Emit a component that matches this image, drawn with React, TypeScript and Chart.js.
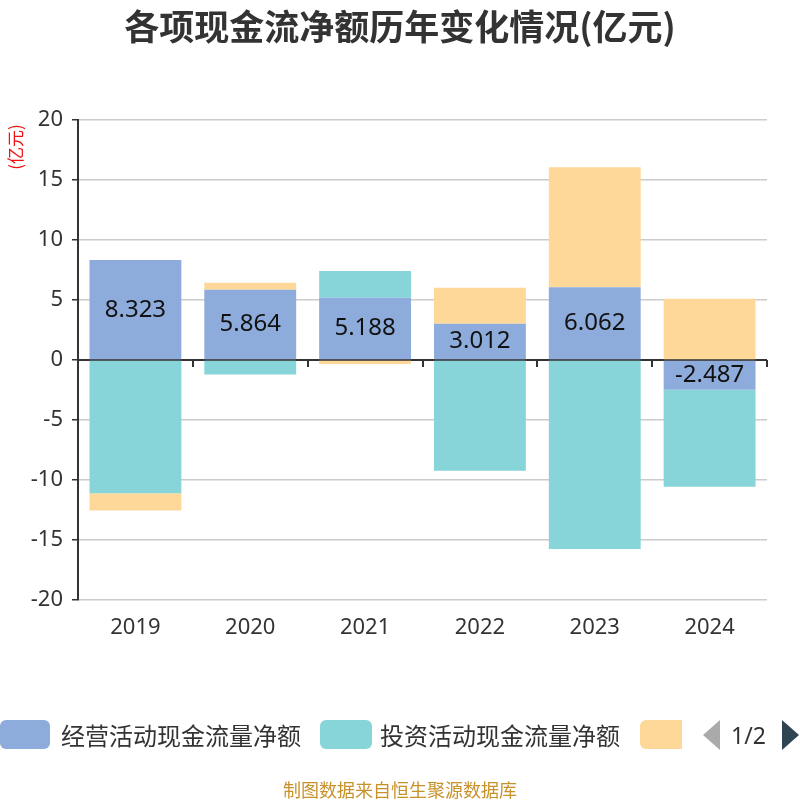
import { useEffect, useRef } from 'react';
import Chart from 'chart.js/auto';

const years = ['2019', '2020', '2021', '2022', '2023', '2024'];
const operating = [8.323, 5.864, 5.188, 3.012, 6.062, -2.487];
const investing = [-11.1, -1.2, 2.23, -9.22, -15.75, -8.07];
const financing = [-1.45, 0.58, -0.33, 3.0, 10.0, 5.1];
const seriesNames = ['经营活动现金流量净额', '投资活动现金流量净额', '筹资活动现金流量净额'];
const seriesColors = ['#8eacdb', '#87d5d8', '#fed899'];
const yMin = -20;
const yMax = 20;
const yStep = 5;

const FONT = '"Noto Sans", "Noto Sans CJK SC", sans-serif';
const CJK = '"Noto Sans CJK SC", sans-serif';

const overlay = {
  id: 'overlay',
  beforeDatasetsDraw(chart: any) {
    const { ctx, chartArea, scales } = chart;
    const x = scales.x;
    const y = scales.y;
    const y0 = y.getPixelForValue(0);
    const half = (x.getPixelForValue(1) - x.getPixelForValue(0)) / 2;
    ctx.save();
    ctx.strokeStyle = '#333';
    ctx.lineWidth = 2;
    ctx.beginPath();
    ctx.moveTo(chartArea.left, y0);
    ctx.lineTo(chartArea.right, y0);
    ctx.stroke();
    ctx.beginPath();
    years.forEach((_, i) => {
      const bx = Math.round(x.getPixelForValue(i) + half);
      ctx.moveTo(bx, y0);
      ctx.lineTo(bx, y0 + 7);
    });
    ctx.stroke();
    ctx.restore();
  },
  afterDatasetsDraw(chart: any) {
    const { ctx } = chart;
    ctx.save();
    ctx.fillStyle = '#111';
    ctx.font = `24px ${FONT}`;
    ctx.textAlign = 'center';
    ctx.textBaseline = 'middle';
    chart.getDatasetMeta(0).data.forEach((bar: any, i: number) => {
      const p = bar.getProps(['x', 'y', 'base'], true);
      ctx.fillText(operating[i].toFixed(3), p.x, (p.y + p.base) / 2);
    });
    ctx.restore();
  },
  afterDraw(chart: any) {
    const { ctx } = chart;
    ctx.save();
    ctx.fillStyle = '#333';
    ctx.font = `bold 35px ${CJK}`;
    ctx.textAlign = 'center';
    ctx.textBaseline = 'middle';
    ctx.fillText('各项现金流净额历年变化情况(亿元)', 400, 27);
    ctx.translate(16, 147);
    ctx.rotate(-Math.PI / 2);
    ctx.fillStyle = '#ee1111';
    ctx.font = `17px ${CJK}`;
    ctx.fillText('(亿元)', 0, 0);
    ctx.restore();
  },
};

function Arrow({ dir, color }: { dir: 'left' | 'right'; color: string }) {
  const pts = dir === 'left' ? '17,0 17,30 0,15' : '0,0 0,30 17,15';
  return (
    <svg width={17} height={30} style={{ display: 'block' }}>
      <polygon points={pts} fill={color} />
    </svg>
  );
}

export default function App() {
  const canvasRef = useRef<HTMLCanvasElement>(null);
  const chartRef = useRef<Chart | null>(null);

  useEffect(() => {
    if (!canvasRef.current) return;
    if (chartRef.current) chartRef.current.destroy();
    const ctx = canvasRef.current.getContext('2d');
    if (!ctx) return;

    const data = [operating, investing, financing];
    chartRef.current = new Chart(ctx, {
      type: 'bar',
      data: {
        labels: years,
        datasets: seriesNames.map((name, k) => ({
          label: name,
          data: data[k],
          backgroundColor: seriesColors[k],
          borderWidth: 0,
          categoryPercentage: 0.8,
          barPercentage: 1,
          stack: 'cash',
        })),
      },
      options: {
        animation: false,
        responsive: true,
        maintainAspectRatio: false,
        layout: { padding: { top: 120, right: 33, left: 0, bottom: 0 } },
        plugins: {
          legend: { display: false },
          tooltip: { enabled: false },
        },
        scales: {
          x: {
            stacked: true,
            grid: { display: false },
            border: { display: false },
            ticks: { color: '#333', font: { size: 22, family: FONT }, padding: 7 },
            afterFit: (s: any) => { s.height = 200; },
          },
          y: {
            stacked: true,
            min: yMin,
            max: yMax,
            grid: { color: '#cccccc', lineWidth: 1.5, tickColor: '#333', tickLength: 6 },
            border: { color: '#333', width: 2 },
            ticks: {
              stepSize: yStep,
              color: '#333',
              font: { size: 22, family: FONT },
              padding: 9,
            },
            afterFit: (s: any) => { s.width = 78; },
          },
        },
      },
      plugins: [overlay],
    });

    return () => {
      if (chartRef.current) {
        chartRef.current.destroy();
        chartRef.current = null;
      }
    };
  }, []);

  const legendText: React.CSSProperties = {
    position: 'absolute',
    top: 0,
    height: 30,
    lineHeight: '30px',
    fontSize: 24,
    color: '#333',
    fontFamily: CJK,
    whiteSpace: 'nowrap',
  };
  const box = (left: number, width: number, color: string): React.CSSProperties => ({
    position: 'absolute',
    left,
    top: 0,
    width,
    height: 29,
    borderRadius: 6,
    background: color,
  });

  return (
    <div style={{ position: 'fixed', left: 0, top: 0, width: 800, height: 800, background: '#fff' }}>
      <canvas ref={canvasRef} style={{ width: '100%', height: '100%' }} />
      <div style={{ position: 'absolute', left: 0, top: 720, width: 800, height: 30 }}>
        <div style={box(0, 50, seriesColors[0])} />
        <div style={{ ...legendText, left: 61 }}>{seriesNames[0]}</div>
        <div style={box(320, 52, seriesColors[1])} />
        <div style={{ ...legendText, left: 380 }}>{seriesNames[1]}</div>
        <div style={{ position: 'absolute', left: 640, top: 0, width: 42, height: 29, overflow: 'hidden' }}>
          <div style={box(0, 52, seriesColors[2])} />
        </div>
        <div style={{ position: 'absolute', left: 703, top: 0 }}>
          <Arrow dir="left" color="#aaaaaa" />
        </div>
        <div style={{ ...legendText, left: 731, fontFamily: FONT, fontSize: 23 }}>1/2</div>
        <div style={{ position: 'absolute', left: 782, top: 0 }}>
          <Arrow dir="right" color="#2f4554" />
        </div>
      </div>
      <div
        style={{
          position: 'absolute',
          left: 0,
          top: 777,
          width: 800,
          textAlign: 'center',
          fontSize: 18,
          color: '#c8922a',
          fontFamily: CJK,
          lineHeight: '24px',
        }}
      >
        制图数据来自恒生聚源数据库
      </div>
    </div>
  );
}
